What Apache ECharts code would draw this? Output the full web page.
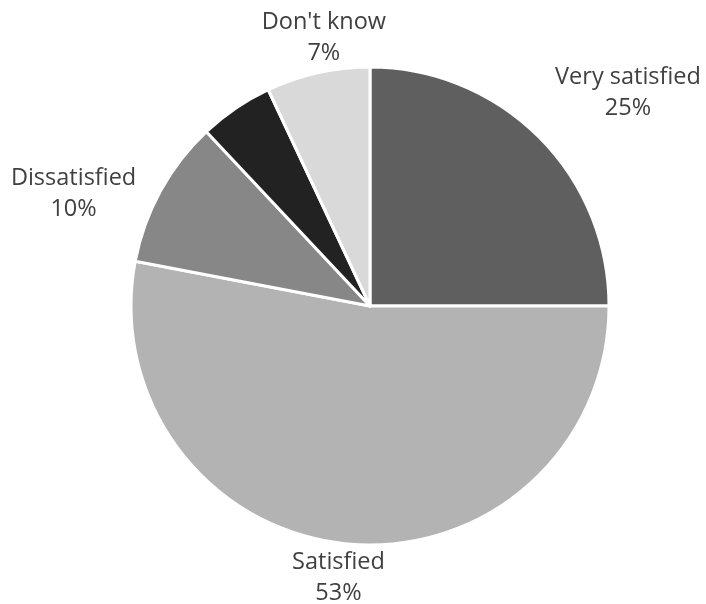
<!DOCTYPE html>
<html>
<head>
<meta charset="utf-8">
<script src="https://cdn.jsdelivr.net/npm/echarts@6/dist/echarts.min.js"></script>
<style>
  html, body { margin: 0; padding: 0; background: #ffffff; }
  #chart { width: 706px; height: 604px; }
</style>
</head>
<body>
<div id="chart"></div>
<script>
// Survey answers, in drawing order (clockwise from 12 o'clock)
const categories = ['Very satisfied', 'Satisfied', 'Dissatisfied', 'Very dissatisfied', "Don't know"];
const shares = [25, 53, 10, 5, 7];
const showLabel = [true, true, true, false, true];

// Styling
const sliceColors = ['#5f5f5f', '#b3b3b3', '#878787', '#222222', '#d9d9d9'];
const pieCenter = [370, 306];
const pieRadius = 239;
// label centre offset from the slice's outer edge at its mid-angle
const labelShift = [[89, -44], [-9, 34], [-87, 3], [0, 0], [6, -35]];

const total = shares.reduce((a, b) => a + b, 0);
const midAngles = [];
let acc = 0;
shares.forEach(v => {
  midAngles.push(((acc + v / 2) / total) * Math.PI * 2);
  acc += v;
});

const chart = echarts.init(document.getElementById('chart'), null, { renderer: 'canvas' });
chart.setOption({
  backgroundColor: '#ffffff',
  animation: false,
  series: [{
    type: 'pie',
    center: pieCenter,
    radius: pieRadius,
    startAngle: 90,
    clockwise: true,
    avoidLabelOverlap: false,
    data: categories.map((name, i) => ({
      name: name,
      value: shares[i],
      itemStyle: { color: sliceColors[i] },
      label: { show: showLabel[i] }
    })),
    itemStyle: { borderColor: '#ffffff', borderWidth: 3 },
    label: {
      position: 'outside',
      formatter: p => p.name + '\n' + p.value + '%',
      fontFamily: 'Open Sans',
      fontSize: 23.5,
      lineHeight: 31,
      color: '#404040',
      align: 'center'
    },
    labelLine: { show: false },
    emphasis: { disabled: true },
    labelLayout: function (params) {
      const i = params.dataIndex;
      const a = midAngles[i];
      const ex = pieCenter[0] + pieRadius * Math.sin(a);
      const ey = pieCenter[1] - pieRadius * Math.cos(a);
      return {
        x: ex + labelShift[i][0],
        y: ey + labelShift[i][1],
        align: 'center',
        verticalAlign: 'middle'
      };
    }
  }]
});
</script>
</body>
</html>
